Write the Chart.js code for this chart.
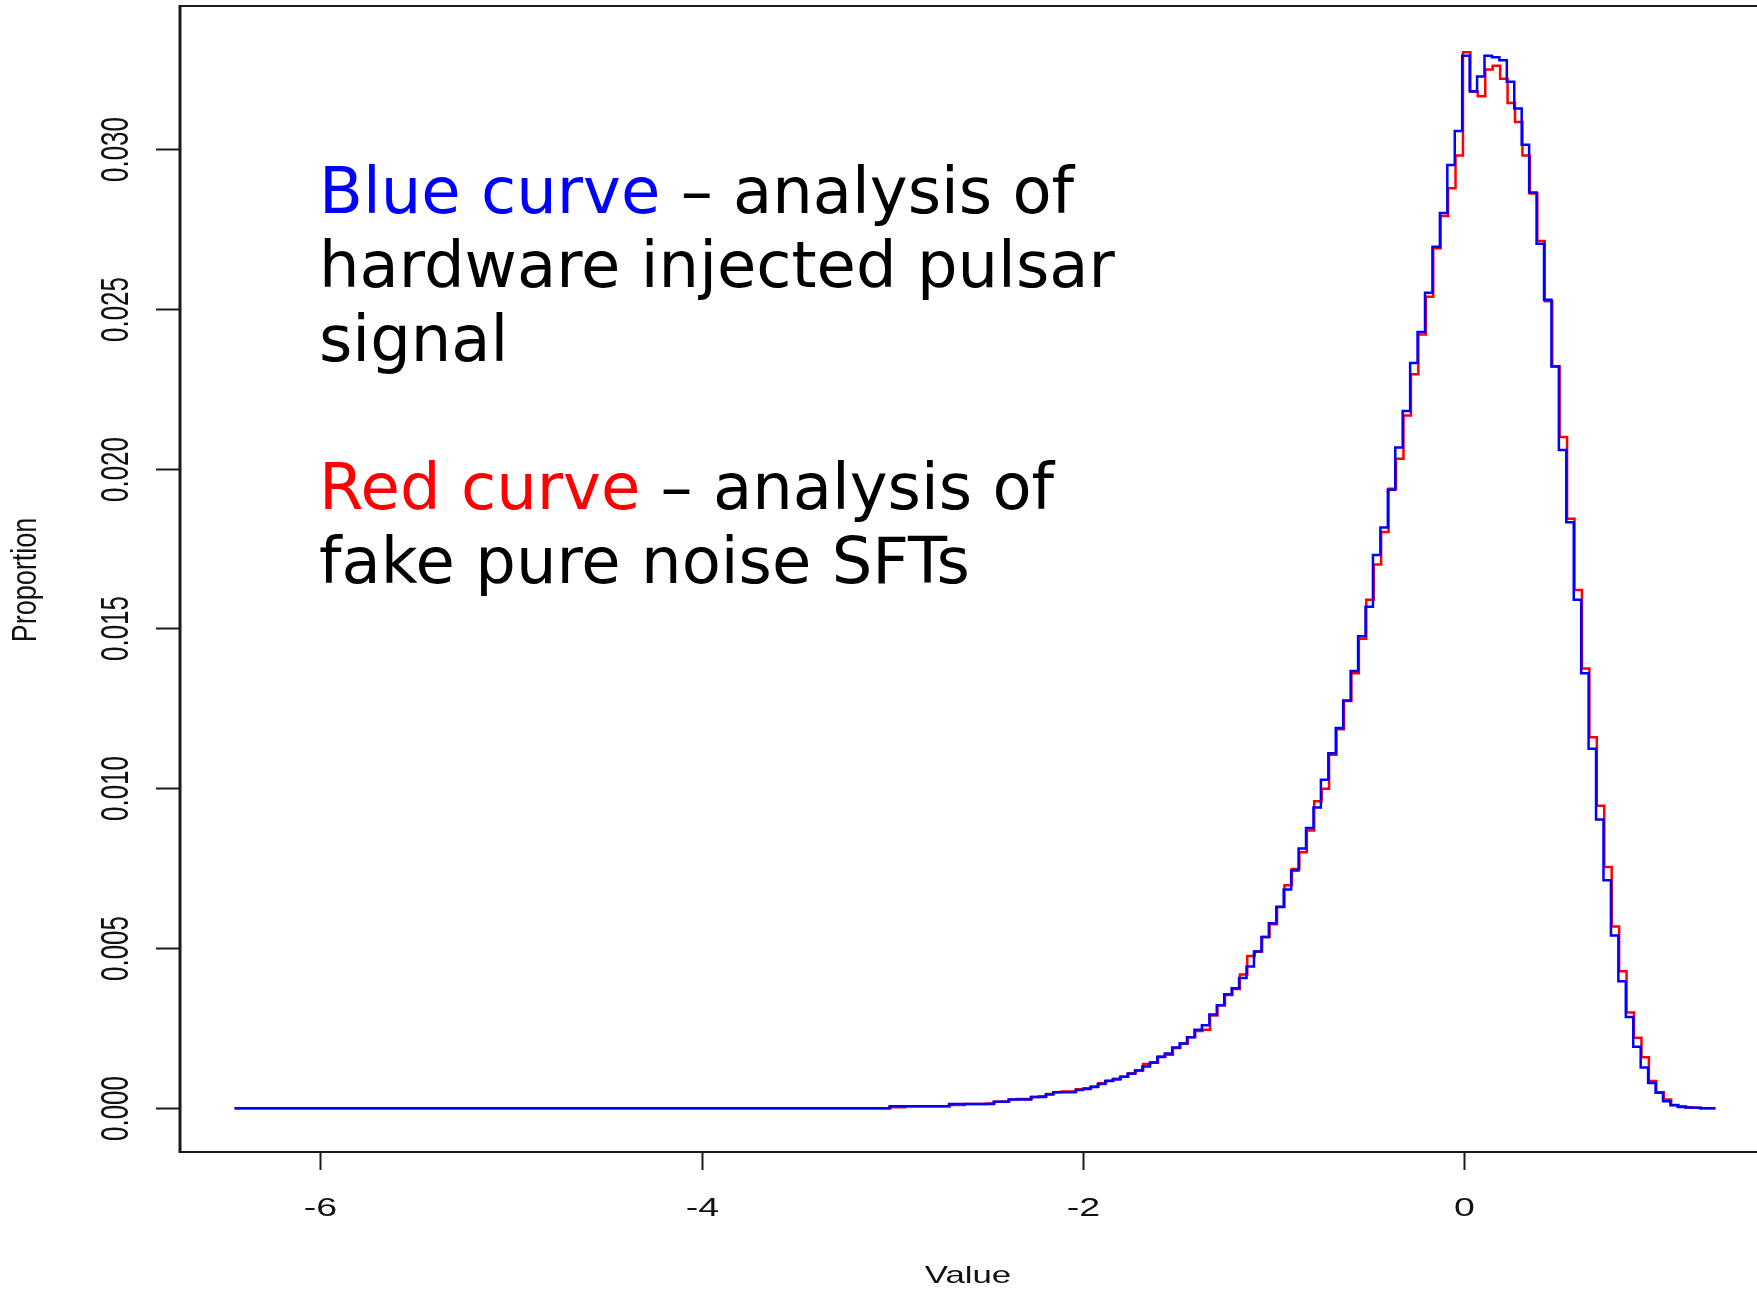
<!DOCTYPE html>
<html lang="en">
<head>
    <meta charset="UTF-8">
    <title>Proportion histogram</title>
    <script src="https://cdn.jsdelivr.net/npm/chart.js"></script>
    <style>
        html, body { margin: 0; padding: 0; background: #fff; }
        #wrap { position: relative; width: 1757px; height: 1289px; }
    </style>
</head>
<body>
<div id="wrap">
    <canvas id="histChart" width="1757" height="1289"></canvas>
</div>
<script>
    // histogram breaks: both step lines start flat at lineStart, then uniform bins
    const lineStart = -6.45;
    const blueFirstEdge = -3.015;
    const redFirstEdge = -3.011;
    const binWidth = 0.039;

    // proportion per bin, hardware injected pulsar signal
    const blueValues = [
        0.00006, 0.00006, 0.00006, 0.00006, 0.00006, 0.00006, 0.00006, 0.00006,
        0.00013, 0.00013, 0.00013, 0.00013, 0.00013, 0.00013,
        0.0002, 0.0002, 0.00027, 0.00027, 0.00027, 0.00035, 0.00035, 0.00043,
        0.0005, 0.0005, 0.0005,
        0.00057, 0.0006, 0.00066, 0.00076, 0.00085, 0.0009, 0.00098, 0.00108, 0.00118, 0.0013,
        0.00143, 0.0016, 0.00171, 0.0019, 0.00202, 0.00222, 0.00245, 0.00259, 0.00293, 0.00322,
        0.00356, 0.00375, 0.00407, 0.00443, 0.0049, 0.00535, 0.00578, 0.00629, 0.00684, 0.00743,
        0.00812, 0.00876, 0.0094, 0.01027, 0.0111, 0.01189, 0.01275, 0.01367, 0.01476, 0.01568,
        0.0173, 0.01816, 0.01934, 0.02066, 0.0218, 0.0233, 0.02427, 0.0255, 0.02694, 0.02799,
        0.02949, 0.03056,
        0.03291, 0.0318, 0.03226, 0.03291, 0.03286, 0.03277, 0.0321, 0.03126, 0.03013, 0.02863,
        0.02703, 0.02528, 0.02319, 0.02058, 0.01832, 0.0159, 0.0136, 0.01124, 0.00903, 0.00713,
        0.0054, 0.00397, 0.00285, 0.00192, 0.00127, 0.00079, 0.00048, 0.00022, 0.00009, 0.00004,
        0.00002, 0.00001, 0, 0
    ];

    // proportion per bin, fake pure noise SFTs
    const redValues = [
        0.00003, 0.00003, 0.00006, 0.00006, 0.00006, 0.00006, 0.00006, 0.00006,
        0.0001, 0.0001, 0.00013, 0.00013, 0.00013, 0.00015,
        0.0002, 0.00021, 0.00027, 0.00029, 0.00029, 0.00035, 0.00037, 0.00044,
        0.0005, 0.00052, 0.00052,
        0.00059, 0.00062, 0.00068, 0.00078, 0.00086, 0.00092, 0.00098, 0.00109, 0.00118, 0.00138,
        0.00142, 0.00162, 0.00167, 0.00188, 0.00202, 0.00222, 0.00241, 0.00245, 0.0029, 0.00322,
        0.00354, 0.00373, 0.00418, 0.00476, 0.0049, 0.00535, 0.00575, 0.0063, 0.00697, 0.00748,
        0.008, 0.00868, 0.0096, 0.00999, 0.01105, 0.01185, 0.01273, 0.0136, 0.01468, 0.0159,
        0.017, 0.01802, 0.01937, 0.02031, 0.02166, 0.02295, 0.02419, 0.02537, 0.02689, 0.0279,
        0.02877, 0.02979,
        0.03302, 0.03178, 0.03164, 0.03248, 0.0326, 0.03219, 0.03143, 0.03084, 0.02979, 0.0286,
        0.02712, 0.02523, 0.0232, 0.02099, 0.01843, 0.0162, 0.01375, 0.0116, 0.00946, 0.00754,
        0.00568, 0.00428, 0.00299, 0.0022, 0.00159, 0.00085, 0.0005, 0.00027, 0.0001, 0.00006,
        0.00002, 0.00001, 0, 0
    ];

    const xTicks = [-6, -4, -2, 0];
    const xTickLabels = ['-6', '-4', '-2', '0'];
    const yTicks = [0, 0.005, 0.010, 0.015, 0.020, 0.025, 0.030];
    const yTickLabels = ['0.000', '0.005', '0.010', '0.015', '0.020', '0.025', '0.030'];

    // left-edge points for a step-before line
    function stepPoints(firstEdge, values) {
        const pts = [{ x: lineStart, y: 0 }];
        values.forEach((v, i) => pts.push({ x: firstEdge + i * binWidth, y: v }));
        pts.push({ x: firstEdge + values.length * binWidth, y: 0 });
        return pts;
    }

    // R-style box, ticks, stretched labels and the two-colour note
    const rAxes = {
        id: 'rAxes',
        afterDraw(chart) {
            const ctx = chart.ctx;
            const area = chart.chartArea;
            const xs = chart.scales.x;
            const ys = chart.scales.y;
            ctx.save();
            ctx.strokeStyle = '#1a1a1a';
            ctx.fillStyle = '#111';

            // box: top, left, bottom
            ctx.lineWidth = 2;
            ctx.beginPath();
            ctx.moveTo(area.left, area.top);
            ctx.lineTo(area.right, area.top);
            ctx.moveTo(area.left, area.bottom);
            ctx.lineTo(area.right, area.bottom);
            ctx.stroke();
            ctx.lineWidth = 3;
            ctx.beginPath();
            ctx.moveTo(area.left, area.top - 1);
            ctx.lineTo(area.left, area.bottom + 1);
            ctx.stroke();

            // x ticks
            ctx.lineWidth = 2;
            ctx.font = '25px "Liberation Sans", Arial, sans-serif';
            ctx.textAlign = 'center';
            ctx.textBaseline = 'alphabetic';
            xTicks.forEach((t, i) => {
                const px = Math.round(xs.getPixelForValue(t)) + 0.5;
                ctx.beginPath();
                ctx.moveTo(px, area.bottom);
                ctx.lineTo(px, area.bottom + 18);
                ctx.stroke();
                ctx.save();
                ctx.translate(px, 1216);
                ctx.scale(1.5, 1);
                ctx.fillText(xTickLabels[i], 0, 0);
                ctx.restore();
            });

            // y ticks, labels turned along the axis
            ctx.font = '26px "Liberation Sans", Arial, sans-serif';
            yTicks.forEach((t, i) => {
                const py = Math.round(ys.getPixelForValue(t)) + 0.5;
                ctx.beginPath();
                ctx.moveTo(area.left, py);
                ctx.lineTo(area.left - 24, py);
                ctx.stroke();
                ctx.save();
                ctx.translate(128, py);
                ctx.rotate(-Math.PI / 2);
                ctx.scale(1, 1.5);
                ctx.fillText(yTickLabels[i], 0, 0);
                ctx.restore();
            });

            // axis titles
            ctx.save();
            ctx.font = '24px "Liberation Sans", Arial, sans-serif';
            ctx.translate(968, 1283);
            ctx.scale(1.45, 1);
            ctx.fillText('Value', 0, 0);
            ctx.restore();

            ctx.save();
            ctx.font = '27px "Liberation Sans", Arial, sans-serif';
            ctx.translate(36, 580);
            ctx.rotate(-Math.PI / 2);
            ctx.scale(1, 1.3);
            ctx.fillText('Proportion', 0, 0);
            ctx.restore();

            // note text
            ctx.font = '64px "DejaVu Sans", sans-serif';
            ctx.textAlign = 'left';
            const noteX = 319;
            const lines = [
                { y: 213, lead: 'Blue curve', color: '#0000ff', rest: ' \u2013 analysis of' },
                { y: 287, lead: '', color: '#000', rest: 'hardware injected pulsar' },
                { y: 361, lead: '', color: '#000', rest: 'signal' },
                { y: 509, lead: 'Red curve', color: '#ff0000', rest: ' \u2013 analysis of' },
                { y: 583, lead: '', color: '#000', rest: 'fake pure noise SFTs' }
            ];
            lines.forEach(l => {
                let x = noteX;
                if (l.lead) {
                    ctx.fillStyle = l.color;
                    ctx.fillText(l.lead, x, l.y);
                    x += ctx.measureText(l.lead).width;
                }
                ctx.fillStyle = '#000';
                ctx.fillText(l.rest, x, l.y);
            });
            ctx.restore();
        }
    };

    const ctx = document.getElementById('histChart').getContext('2d');
    const histChart = new Chart(ctx, {
        type: 'line',
        data: {
            datasets: [
                {
                    label: 'hardware injected pulsar signal',
                    data: stepPoints(blueFirstEdge, blueValues),
                    borderColor: '#0000ff',
                    borderWidth: 2.5,
                    pointRadius: 0,
                    stepped: true,
                    fill: false
                },
                {
                    label: 'fake pure noise SFTs',
                    data: stepPoints(redFirstEdge, redValues),
                    borderColor: '#ff0000',
                    borderWidth: 2.5,
                    pointRadius: 0,
                    stepped: true,
                    fill: false
                }
            ]
        },
        options: {
            responsive: false,
            animation: false,
            devicePixelRatio: 1,
            layout: { padding: { left: 180, top: 6, right: 0, bottom: 137 } },
            plugins: {
                legend: { display: false },
                tooltip: { enabled: false }
            },
            scales: {
                x: { type: 'linear', display: false, min: -6.736, max: 1.534 },
                y: { type: 'linear', display: false, min: -0.00137, max: 0.034465 }
            }
        },
        plugins: [rAxes]
    });
</script>
</body>
</html>
